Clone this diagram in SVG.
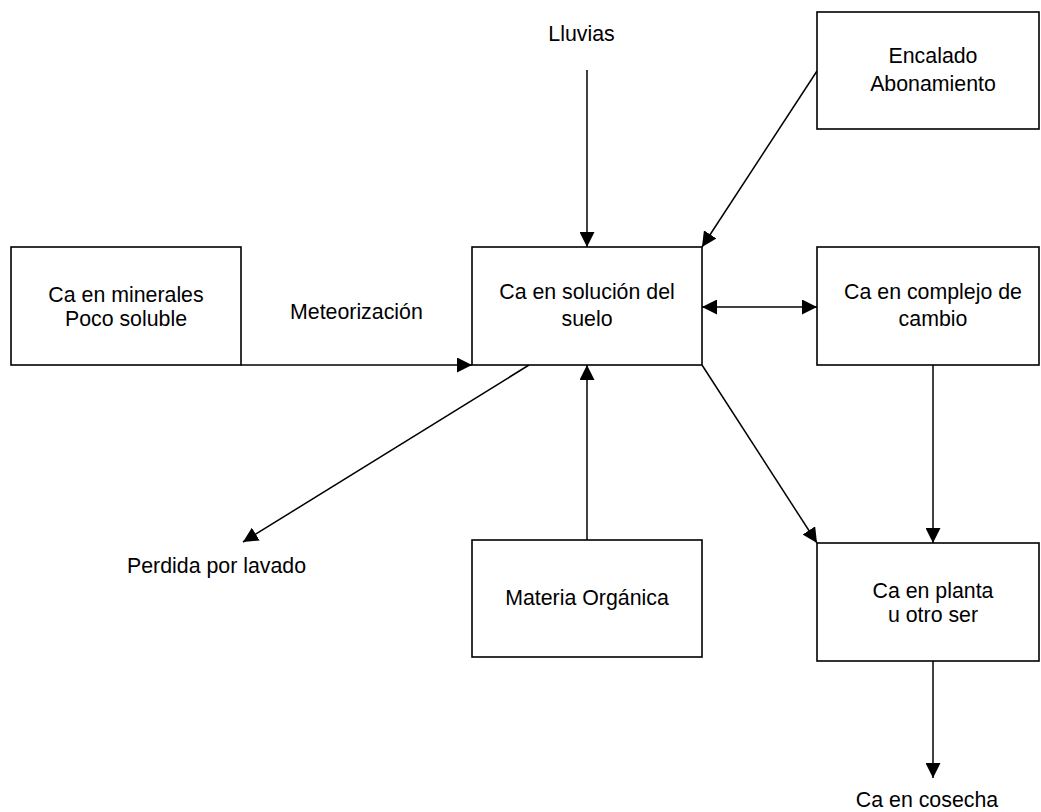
<svg xmlns="http://www.w3.org/2000/svg" width="1041" height="812" viewBox="0 0 1041 812">
<style>
  .box { fill: #fff; stroke: #000; stroke-width: 1.6; }
  .ln { fill: none; stroke: #000; stroke-width: 1.5; }
  text { font-family: "Liberation Sans", Arial, sans-serif; font-size: 21.33px; fill: #000; }
  .c { text-anchor: middle; }
</style>
<defs>
  <marker id="ah" markerUnits="userSpaceOnUse" viewBox="0 0 15 15" markerWidth="15" markerHeight="15" refX="15" refY="7.5" orient="auto-start-reverse">
    <path d="M0,0 L15,7.5 L0,15 z" fill="#000"/>
  </marker>
</defs>
<rect width="1041" height="812" fill="#fff"/>

<g id="connectors">
  <line class="ln" x1="587" y1="70" x2="587" y2="247" marker-end="url(#ah)"/>
  <line class="ln" x1="817" y1="71" x2="702" y2="247" marker-end="url(#ah)"/>
  <line class="ln" x1="241" y1="365" x2="472" y2="365" marker-end="url(#ah)"/>
  <line class="ln" x1="702" y1="307" x2="817" y2="307" marker-start="url(#ah)" marker-end="url(#ah)"/>
  <line class="ln" x1="529" y1="365" x2="243" y2="542" marker-end="url(#ah)"/>
  <line class="ln" x1="587" y1="540" x2="587" y2="365" marker-end="url(#ah)"/>
  <line class="ln" x1="702" y1="365" x2="817" y2="543" marker-end="url(#ah)"/>
  <line class="ln" x1="933" y1="365" x2="933" y2="543" marker-end="url(#ah)"/>
  <line class="ln" x1="933" y1="661" x2="933" y2="778" marker-end="url(#ah)"/>
</g>

<g id="lluvias"><text class="c" x="581.5" y="41">Lluvias</text></g>

<g id="encalado">
  <rect class="box" x="817" y="12" width="222" height="117"/>
  <text class="c" x="933" y="63">Encalado</text>
  <text class="c" x="933" y="91">Abonamiento</text>
</g>

<g id="minerales">
  <rect class="box" x="11" y="247" width="230" height="118"/>
  <text class="c" x="126" y="302">Ca en minerales</text>
  <text class="c" x="126" y="326">Poco soluble</text>
</g>

<g id="meteorizacion"><text x="290" y="319">Meteorización</text></g>

<g id="solucion">
  <rect class="box" x="472" y="247" width="230" height="118"/>
  <text class="c" x="587" y="299">Ca en solución del</text>
  <text class="c" x="587" y="326">suelo</text>
</g>

<g id="complejo">
  <rect class="box" x="817" y="247" width="222" height="118"/>
  <text class="c" x="933" y="299">Ca en complejo de</text>
  <text class="c" x="933" y="326">cambio</text>
</g>

<g id="perdida"><text x="127" y="573">Perdida por lavado</text></g>

<g id="materia">
  <rect class="box" x="472" y="540" width="230" height="117"/>
  <text class="c" x="587" y="605">Materia Orgánica</text>
</g>

<g id="planta">
  <rect class="box" x="817" y="543" width="222" height="118"/>
  <text class="c" x="933" y="598">Ca en planta</text>
  <text class="c" x="933" y="622">u otro ser</text>
</g>

<g id="cosecha"><text class="c" x="927" y="807">Ca en cosecha</text></g>
</svg>
